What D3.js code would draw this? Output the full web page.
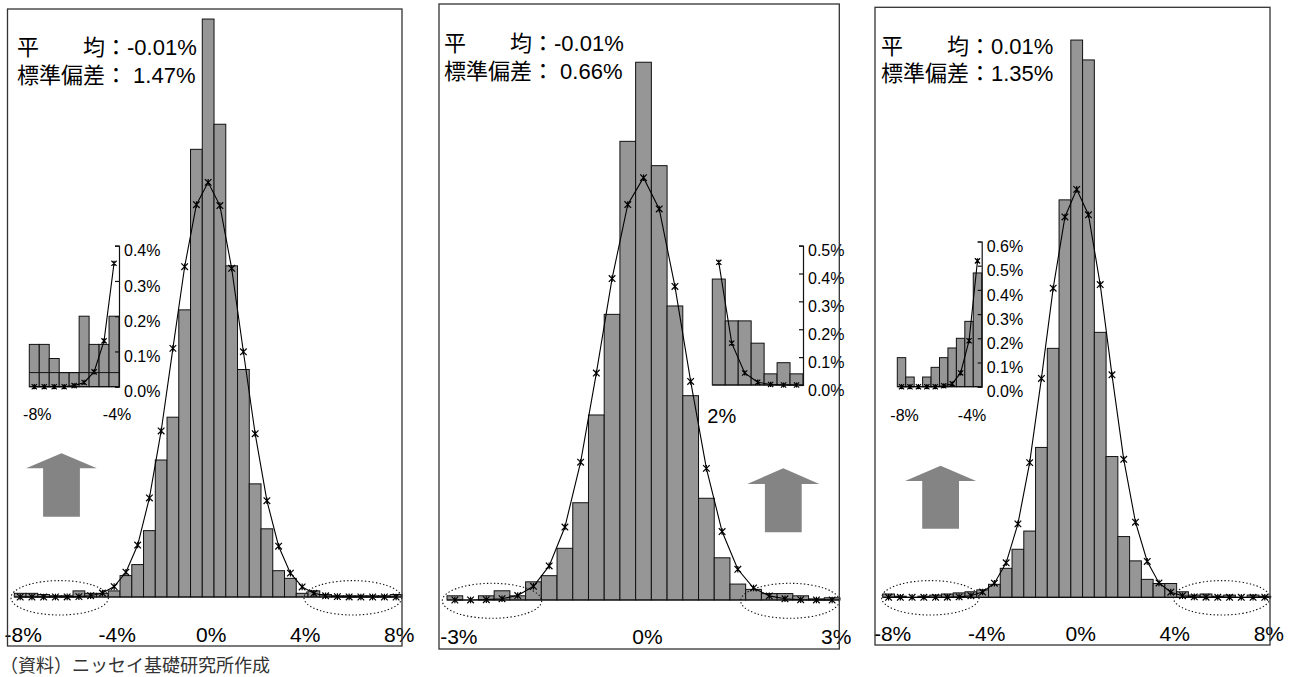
<!DOCTYPE html>
<html>
<head>
<meta charset="utf-8">
<script src="https://cdn.jsdelivr.net/npm/d3@7"></script>
<style>
  html, body { margin: 0; padding: 0; background: #fff; }
  svg { display: block; font-family: "Liberation Sans", "Noto Sans CJK JP", sans-serif; }
</style>
</head>
<body>
<svg id="chart" width="1291" height="677"></svg>
<script>
// ---------- data: daily return distributions (frequency, %) ----------

// Panel 1: bins of 0.5% from -8% to 8%
const cats1 = [-8, -7.5, -7, -6.5, -6, -5.5, -5, -4.5, -4, -3.5, -3, -2.5, -2, -1.5, -1, -0.5, 0,
               0.5, 1, 1.5, 2, 2.5, 3, 3.5, 4, 4.5, 5, 5.5, 6, 6.5, 7, 7.5, 8];
const freq1 = [0.12, 0.12, 0.08, 0.04, 0.04, 0.2, 0.12, 0.12, 0.2, 0.70, 1.06, 2.17, 4.48, 5.88, 9.39, 14.64, 18.9,
               15.46, 10.83, 7.44, 3.70, 2.23, 0.86, 0.61, 0.12, 0.2, 0.08, 0.04, 0.04, 0.04, 0.04, 0.04, 0.08];
const normal1 = [0, 0, 0, 0, 0.003, 0.012, 0.042, 0.13, 0.34, 0.81, 1.70, 3.24, 5.43, 8.13, 10.8, 12.83, 13.56,
                 12.8, 10.75, 8.02, 5.34, 3.15, 1.66, 0.78, 0.33, 0.12, 0.04, 0.012, 0.003, 0, 0, 0, 0];
const ticks1 = [-8, -4, 0, 4, 8];
const stats1 = ["平\u3000\u3000均：-0.01%", "標準偏差： 1.47%"];
const insetCats1 = [-8, -7.5, -7, -6.5, -6, -5.5, -5, -4.5, -4];
const insetFreq1 = [0.12, 0.12, 0.08, 0.04, 0.04, 0.2, 0.12, 0.12, 0.2];
const insetNormal1 = [0, 0, 0, 0, 0.003, 0.012, 0.042, 0.13, 0.35];
const insetYTicks1 = [0, 0.1, 0.2, 0.3, 0.4];
const insetXTicks1 = [-8, -4];
const insetFloor1 = 0.04;

// Panel 2: bins of 0.25% from -3% to 3%
const cats2 = [-3, -2.75, -2.5, -2.25, -2, -1.75, -1.5, -1.25, -1, -0.75, -0.5, -0.25, 0,
               0.25, 0.5, 0.75, 1, 1.25, 1.5, 1.75, 2, 2.25, 2.5, 2.75, 3];
const freq2 = [0.15, 0, 0.15, 0.33, 0.15, 0.65, 0.87, 1.85, 3.48, 6.62, 10.22, 16.41, 19.24,
               15.54, 10.52, 7.31, 3.64, 1.51, 0.57, 0.38, 0.23, 0.23, 0.15, 0.04, 0.08];
const normal2 = [0, 0.002, 0.012, 0.047, 0.16, 0.49, 1.22, 2.61, 4.93, 8.12, 11.5, 14.15, 15.11,
                 13.99, 11.22, 7.82, 4.71, 2.45, 1.1, 0.43, 0.147, 0.043, 0.01, 0.002, 0];
const ticks2 = [-3, 0, 3];
const stats2 = ["平\u3000\u3000均：-0.01%", "標準偏差： 0.66%"];
const insetCats2 = [2, 2.25, 2.5, 2.75, 3, 3.25, 3.5];
const insetFreq2 = [0.38, 0.23, 0.23, 0.15, 0.04, 0.08, 0.04];
const insetNormal2 = [0.44, 0.15, 0.043, 0.01, 0.002, 0, 0];
const insetYTicks2 = [0, 0.1, 0.2, 0.3, 0.4, 0.5];
const insetXTicks2 = [2];

// Panel 3: bins of 0.5% from -8% to 8%
const cats3 = [-8, -7.5, -7, -6.5, -6, -5.5, -5, -4.5, -4, -3.5, -3, -2.5, -2, -1.5, -1, -0.5, 0,
               0.5, 1, 1.5, 2, 2.5, 3, 3.5, 4, 4.5, 5, 5.5, 6, 6.5, 7, 7.5, 8];
const freq3 = [0.12, 0.04, 0, 0.04, 0.08, 0.12, 0.16, 0.2, 0.27, 0.47, 1.05, 1.74, 2.40, 5.43, 9.02, 14.4, 20.19,
               19.47, 9.6, 5.1, 2.2, 1.32, 0.65, 0.5, 0.5, 0.2, 0.08, 0.12, 0.04, 0.08, 0, 0.08, 0.04];
const normal3 = [0, 0, 0, 0, 0, 0.004, 0.015, 0.057, 0.19, 0.51, 1.25, 2.66, 4.88, 7.93, 11.2, 13.78, 14.78,
                 13.86, 11.33, 8.06, 5.0, 2.72, 1.3, 0.52, 0.186, 0.058, 0.016, 0.004, 0, 0, 0, 0, 0];
const ticks3 = [-8, -4, 0, 4, 8];
const stats3 = ["平\u3000\u3000均：0.01%", "標準偏差：1.35%"];
const insetCats3 = [-8, -7.5, -7, -6.5, -6, -5.5, -5, -4.5, -4, -3.5];
const insetFreq3 = [0.12, 0.04, 0, 0.04, 0.08, 0.12, 0.16, 0.2, 0.27, 0.47];
const insetNormal3 = [0, 0, 0, 0, 0, 0.004, 0.012, 0.057, 0.19, 0.52];
const insetYTicks3 = [0, 0.1, 0.2, 0.3, 0.4, 0.5, 0.6];
const insetXTicks3 = [-8, -4];

const sourceNote = "（資料）ニッセイ基礎研究所作成";

// ---------- styling ----------
const BAR_FILL = "#969696";
const ARROW_FILL = "#848484";
const FRAME = "#333";
const LATIN = '"Liberation Sans", "Noto Sans CJK JP", sans-serif';

const svg = d3.select("#chart");

// asterisk-style marker: an X crossed by a vertical stroke
const star = r => `M${-r},${-r}L${r},${r}M${-r},${r}L${r},${-r}M0,${-r}L0,${r}`;

function histogram(g, x, y, cats, freq, normal, markerR) {
  const rows = cats.map((c, i) => ({ c, v: freq[i], n: normal[i] }));
  const bw = x.bandwidth();
  g.append("g").selectAll("rect")
    .data(rows.filter(r => r.v > 0))
    .join("rect")
    .attr("x", r => x(r.c))
    .attr("y", r => y(r.v))
    .attr("width", bw)
    .attr("height", r => y(0) - y(r.v))
    .attr("fill", BAR_FILL)
    .attr("stroke", "#111")
    .attr("stroke-width", 1);

  // baseline
  g.append("line")
    .attr("x1", x.range()[0]).attr("x2", x.range()[1])
    .attr("y1", y(0)).attr("y2", y(0))
    .attr("stroke", "#111").attr("stroke-width", 1.2);

  // fitted normal curve
  const line = d3.line().x(r => x(r.c) + bw / 2).y(r => y(r.n));
  g.append("path")
    .datum(rows)
    .attr("d", line)
    .attr("fill", "none")
    .attr("stroke", "#000")
    .attr("stroke-width", 1.1);

  g.append("g").selectAll("path")
    .data(rows)
    .join("path")
    .attr("transform", r => `translate(${x(r.c) + bw / 2},${y(r.n)})`)
    .attr("d", star(markerR))
    .attr("fill", "none")
    .attr("stroke", "#000")
    .attr("stroke-width", 1.2);
}

function drawPanel(d, L) {
  const g = svg.append("g");

  // main histogram
  const x = d3.scaleBand().domain(d.cats).range([L.plot.x0, L.plot.x1]).padding(0);
  const y = d3.scaleLinear().domain([0, L.plot.yMax]).range([L.plot.base, L.plot.top]);
  histogram(g, x, y, d.cats, d.freq, d.normal, 3.3);

  // category axis labels
  const ax = g.append("g")
    .attr("transform", `translate(0,${L.plot.labelY})`)
    .call(d3.axisBottom(x).tickValues(d.ticks).tickFormat(v => v + "%").tickSize(0).tickPadding(0));
  ax.select(".domain").remove();
  ax.selectAll("text")
    .attr("y", 0).attr("dy", "0.35em").attr("dx", L.plot.labelDx)
    .attr("font-size", 21).attr("fill", "#000")
    .attr("font-family", LATIN);

  // dotted ellipses around both tails
  g.append("g").selectAll("ellipse")
    .data(L.ellipses)
    .join("ellipse")
    .attr("cx", e => e.cx).attr("cy", e => e.cy)
    .attr("rx", e => e.rx).attr("ry", e => e.ry)
    .attr("fill", "none")
    .attr("stroke", "#111")
    .attr("stroke-width", 1.1)
    .attr("stroke-dasharray", "1.4,2.2");

  // inset: magnified tail
  const I = L.inset;
  const xi = d3.scaleBand().domain(d.insetCats).range([I.x0, I.x1]).padding(0);
  const yi = d3.scaleLinear().domain([0, I.yMax]).range([I.zero, I.top]);
  const gi = g.append("g");
  histogram(gi, xi, yi, d.insetCats, d.insetFreq, d.insetNormal, 2.6);
  if (d.insetFloor !== undefined) {
    gi.append("line")
      .attr("x1", I.x0).attr("x2", I.x1)
      .attr("y1", yi(d.insetFloor)).attr("y2", yi(d.insetFloor))
      .attr("stroke", "#111").attr("stroke-width", 1);
  }
  const ay = gi.append("g")
    .attr("transform", `translate(${I.x1},0)`)
    .call(d3.axisRight(yi).tickValues(d.insetYTicks)
      .tickFormat(v => v.toFixed(1) + "%").tickSizeInner(-4).tickSizeOuter(-4).tickPadding(5));
  ay.select(".domain").attr("stroke", "#111").attr("stroke-width", 1.2);
  ay.selectAll(".tick line").attr("stroke", "#111").attr("stroke-width", 1.2);
  ay.selectAll("text")
    .attr("x", 5).attr("y", 5)
    .attr("font-size", 16).attr("fill", "#000")
    .attr("font-family", LATIN);

  const axi = gi.append("g")
    .attr("transform", `translate(0,${I.labelY})`)
    .call(d3.axisBottom(xi).tickValues(d.insetXTicks).tickFormat(v => v + "%").tickSize(0).tickPadding(0));
  axi.select(".domain").remove();
  axi.selectAll("text")
    .attr("y", 0).attr("dy", "0.35em").attr("dx", I.labelDx)
    .attr("font-size", I.labelSize).attr("fill", "#000")
    .attr("font-family", LATIN);

  // block arrow
  const A = L.arrow;
  const pts = [
    [A.cx, A.tip],
    [A.cx + A.headHalf, A.tip + A.headH],
    [A.cx + A.shaftHalf, A.tip + A.headH],
    [A.cx + A.shaftHalf, A.bottom],
    [A.cx - A.shaftHalf, A.bottom],
    [A.cx - A.shaftHalf, A.tip + A.headH],
    [A.cx - A.headHalf, A.tip + A.headH]
  ];
  g.append("polygon")
    .attr("points", pts.map(p => p.join(",")).join(" "))
    .attr("fill", ARROW_FILL);

  // mean / standard deviation note
  g.append("g").selectAll("text")
    .data(d.stats)
    .join("text")
    .attr("x", L.stats.x)
    .attr("y", (s, i) => L.stats.y[i])
    .attr("dy", "0.35em")
    .attr("font-size", 22)
    .attr("fill", "#000")
    .text(s => s);

  // panel frame
  g.append("rect")
    .attr("x", L.frame.x0).attr("y", L.frame.y0)
    .attr("width", L.frame.x1 - L.frame.x0)
    .attr("height", L.frame.y1 - L.frame.y0)
    .attr("fill", "none")
    .attr("stroke", FRAME)
    .attr("stroke-width", 1.3);
}

drawPanel(
  { cats: cats1, freq: freq1, normal: normal1, ticks: ticks1, stats: stats1,
    insetCats: insetCats1, insetFreq: insetFreq1, insetNormal: insetNormal1,
    insetYTicks: insetYTicks1, insetXTicks: insetXTicks1, insetFloor: insetFloor1 },
  { frame: { x0: 7.5, y0: 9, x1: 402, y1: 646 },
    plot: { x0: 14.3, x1: 402, base: 597, top: 16, yMax: 19, labelY: 635, labelDx: 3 },
    inset: { x0: 29.3, x1: 119, zero: 386.7, top: 245.7, yMax: 0.4, labelY: 414, labelDx: 3, labelSize: 16 },
    arrow: { cx: 61.5, tip: 453.3, headHalf: 35.4, headH: 15, shaftHalf: 18.4, bottom: 516.7 },
    ellipses: [{ cx: 59.7, cy: 597.8, rx: 48.7, ry: 17.2 }, { cx: 352.8, cy: 597.8, rx: 48.8, ry: 17.2 }],
    stats: { x: 17, y: [47.7, 75] } }
);

drawPanel(
  { cats: cats2, freq: freq2, normal: normal2, ticks: ticks2, stats: stats2,
    insetCats: insetCats2, insetFreq: insetFreq2, insetNormal: insetNormal2,
    insetYTicks: insetYTicks2, insetXTicks: insetXTicks2 },
  { frame: { x0: 439, y0: 4, x1: 839.3, y1: 649 },
    plot: { x0: 447, x1: 840, base: 600, top: 41, yMax: 20, labelY: 637, labelDx: 4 },
    inset: { x0: 712.3, x1: 803, zero: 385, top: 245.6, yMax: 0.5, labelY: 416, labelDx: 3, labelSize: 20 },
    arrow: { cx: 783.3, tip: 468.3, headHalf: 36, headH: 15.7, shaftHalf: 18.4, bottom: 532.3 },
    ellipses: [{ cx: 492, cy: 600.8, rx: 49.7, ry: 17.5 }, { cx: 790, cy: 600.8, rx: 49.3, ry: 17.5 }],
    stats: { x: 444, y: [43.3, 71] } }
);

drawPanel(
  { cats: cats3, freq: freq3, normal: normal3, ticks: ticks3, stats: stats3,
    insetCats: insetCats3, insetFreq: insetFreq3, insetNormal: insetNormal3,
    insetYTicks: insetYTicks3, insetXTicks: insetXTicks3 },
  { frame: { x0: 875, y0: 7.3, x1: 1270, y1: 645 },
    plot: { x0: 882.7, x1: 1270.7, base: 597.3, top: 17.7, yMax: 21, labelY: 634, labelDx: 4 },
    inset: { x0: 897.3, x1: 981.7, zero: 386.7, top: 241.5, yMax: 0.6, labelY: 415, labelDx: 3, labelSize: 16 },
    arrow: { cx: 940.6, tip: 465.7, headHalf: 35.5, headH: 15.3, shaftHalf: 18.4, bottom: 528.7 },
    ellipses: [{ cx: 930.3, cy: 597.8, rx: 48.7, ry: 17.2 }, { cx: 1221.7, cy: 597.8, rx: 48.3, ry: 17.2 }],
    stats: { x: 881, y: [46.7, 73.3] } }
);

// source note
svg.append("text")
  .attr("x", 0)
  .attr("y", 666)
  .attr("dy", "0.35em")
  .attr("font-size", 18)
  .attr("fill", "#333")
  .attr("font-family", '"Noto Sans CJK JP", sans-serif')
  .text(sourceNote);
</script>
</body>
</html>
